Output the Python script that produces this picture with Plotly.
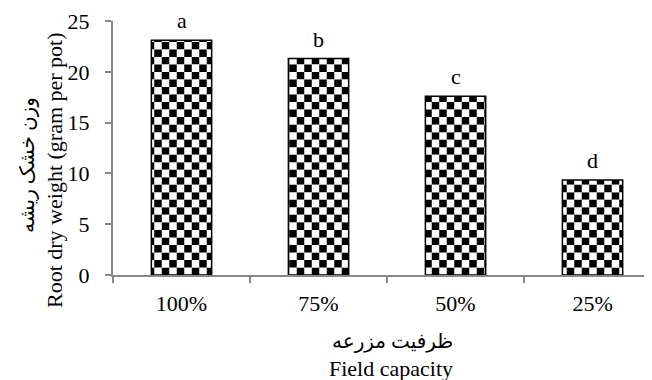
import math
import plotly.graph_objects as go

categories = ["100%", "75%", "50%", "25%"]
values = [23.1, 21.3, 17.6, 9.35]
letters = ["a", "b", "c", "d"]

y_title_fa = "وزن خشک ریشه"
y_title_en = "Root dry weight (gram per pot)"
x_title_fa = "ظرفیت مزرعه"
x_title_en = "Field capacity"

FONT = "Liberation Serif, Times New Roman, DejaVu Sans, serif"
CELL = 0.74   # checker row height in data units
BAR_W = 0.44

# page body has an 8px margin; figure sized to fill the rest of the window
OFF = 8
W, H = 652 - OFF, 380 - OFF
PL, PR, PT, PB = 113 - OFF, 652 - OFF, 21 - OFF, 275 - OFF   # plot box in figure px


def px(xp):
    return (xp - OFF - PL) / (PR - PL)


def py(yp):
    return (PB - (yp - OFF)) / (PB - PT)


# split each bar into alternating rows to build a checkerboard fill
even = dict(x=[], y=[], base=[])
odd = dict(x=[], y=[], base=[])
for cat, v in zip(categories, values):
    n = math.ceil(v / CELL)
    for k in range(n):
        b = k * CELL
        h = min(CELL, v - b)
        tgt = even if k % 2 == 0 else odd
        tgt["x"].append(cat)
        tgt["y"].append(h)
        tgt["base"].append(b)

fig = go.Figure()
for seg, fg, bg in [(even, "black", "white"), (odd, "white", "black")]:
    fig.add_trace(go.Bar(
        x=seg["x"], y=seg["y"], base=seg["base"], width=BAR_W,
        marker=dict(color=bg, line=dict(width=0),
                    pattern=dict(shape="|", fgcolor=fg, bgcolor=bg,
                                 size=15, solidity=0.5, fillmode="replace")),
        hoverinfo="skip", showlegend=False,
    ))

fig.add_trace(go.Bar(
    x=categories, y=values, width=BAR_W,
    marker=dict(color="rgba(0,0,0,0)", line=dict(color="black", width=1.5)),
    showlegend=False,
))

ann = []
for cat, v, lt in zip(categories, values, letters):
    ann.append(dict(text=lt, x=cat, y=v, xref="x", yref="y", showarrow=False,
                    yanchor="bottom", yshift=5,
                    font=dict(family=FONT, size=22, color="black")))

fa_font = dict(family=FONT, size=20, color="black")
en_font = dict(family=FONT, size=22, color="black")
ann += [
    dict(text=y_title_fa, xref="paper", yref="paper", x=px(27), y=py(165),
         textangle=-90, showarrow=False, xanchor="center", yanchor="middle", font=fa_font),
    dict(text=y_title_en, xref="paper", yref="paper", x=px(54), y=py(170),
         textangle=-90, showarrow=False, xanchor="center", yanchor="middle", font=en_font),
    dict(text=x_title_fa, xref="paper", yref="paper", x=px(392), y=py(341),
         showarrow=False, xanchor="center", yanchor="middle", font=fa_font),
    dict(text=x_title_en, xref="paper", yref="paper", x=px(391), y=py(368),
         showarrow=False, xanchor="center", yanchor="middle", font=en_font),
]

tick_font = dict(family=FONT, size=22, color="black")
fig.update_layout(
    width=W, height=H,
    margin=dict(l=PL, r=W - PR, t=PT, b=H - PB),
    paper_bgcolor="white", plot_bgcolor="white",
    barmode="overlay",
    font=dict(family=FONT, size=22, color="black"),
    xaxis=dict(
        type="category", range=[-0.5, 3.434],
        showline=True, linecolor="#888888", linewidth=2,
        ticks="outside", tickson="boundaries", ticklen=6, tickcolor="#888888",
        tickwidth=1.5, showgrid=False, ticklabelstandoff=8, tickfont=tick_font,
    ),
    yaxis=dict(
        range=[0, 25], dtick=5,
        showline=True, linecolor="#888888", linewidth=2,
        ticks="outside", ticklen=6, tickcolor="#888888", tickwidth=1.5,
        showgrid=False, zeroline=False, ticklabelstandoff=11, tickfont=tick_font,
    ),
    annotations=ann,
)

fig.write_html("out.html")
